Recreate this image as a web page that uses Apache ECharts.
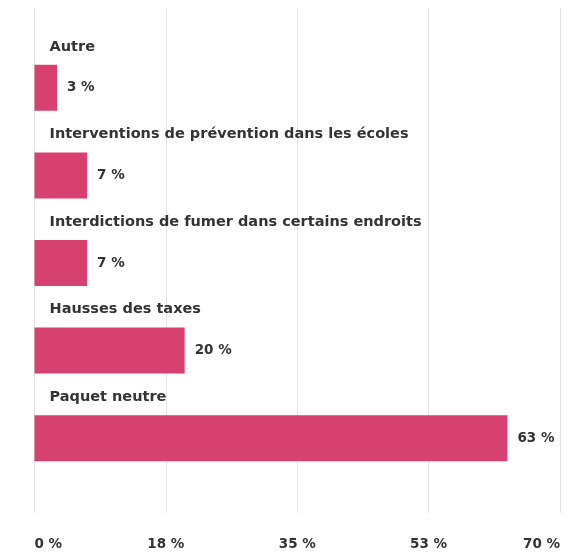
<!DOCTYPE html>
<html>
<head>
<meta charset="utf-8">
<script src="https://cdn.jsdelivr.net/npm/echarts@6/dist/echarts.min.js"></script>
<style>
  html, body { margin: 0; padding: 0; background: #fff; }
  #chart { width: 579px; height: 553px; }
</style>
</head>
<body>
<div id="chart"></div>
<script>
// Mesures jugées les plus efficaces (en %)
const categories = [
  'Autre',
  'Interventions de prévention dans les écoles',
  'Interdictions de fumer dans certains endroits',
  'Hausses des taxes',
  'Paquet neutre'
];
const values = [3, 7, 7, 20, 63];
const tickValues = [0, 17.5, 35, 52.5, 70];
const tickLabels = ['0 %', '18 %', '35 %', '53 %', '70 %'];

const FONT = '"DejaVu Sans", sans-serif';
const TEXT = '#333333';
const BAR = '#d6416f';

const chart = echarts.init(document.getElementById('chart'), null, { renderer: 'canvas' });

chart.setOption({
  animation: false,
  backgroundColor: '#ffffff',
  grid: [
    // background grid: vertical lines and bottom tick labels
    { left: 34.5, right: 19, top: 8, bottom: 40, containLabel: false },
    // bars
    { left: 34.5, right: 19, top: 44, bottom: 71, containLabel: false }
  ],
  xAxis: [
    {
      gridIndex: 0,
      type: 'value',
      min: 0,
      max: 70,
      interval: 17.5,
      axisLine: { show: false },
      axisTick: { show: false },
      splitLine: { show: true, lineStyle: { color: '#e3e3e3', width: 1 } },
      axisLabel: {
        margin: 24,
        color: TEXT,
        fontFamily: FONT,
        fontSize: 13.5,
        fontWeight: 'bold',
        alignMinLabel: 'left',
        alignMaxLabel: 'right',
        formatter: function (v) {
          const i = tickValues.indexOf(v);
          return i >= 0 ? tickLabels[i] : '';
        }
      }
    },
    {
      gridIndex: 1,
      type: 'value',
      min: 0,
      max: 70,
      interval: 17.5,
      show: false,
      splitLine: { show: false }
    }
  ],
  yAxis: [
    {
      gridIndex: 0,
      type: 'value',
      show: false,
      splitLine: { show: false }
    },
    {
      gridIndex: 1,
      type: 'category',
      data: categories,
      inverse: true,
      axisLine: { show: false },
      axisTick: { show: false },
      splitLine: { show: false },
      axisLabel: {
        inside: true,
        interval: 0,
        showMinLabel: true,
        showMaxLabel: true,
        hideOverlap: false,
        margin: 15,
        verticalAlign: 'middle',
        formatter: function (v) { return '{t|' + v + '}\n{s|}'; },
        rich: {
          t: {
            color: TEXT,
            fontFamily: FONT,
            fontSize: 14.5,
            fontWeight: 'bold',
            height: 18,
            lineHeight: 18
          },
          s: { height: 82, lineHeight: 82 }
        }
      },
      z: 5
    }
  ],
  series: [
    {
      type: 'bar',
      xAxisIndex: 1,
      yAxisIndex: 1,
      data: values,
      barWidth: 46,
      itemStyle: { color: BAR },
      label: {
        show: true,
        position: 'right',
        distance: 10,
        color: TEXT,
        fontFamily: FONT,
        fontSize: 13.5,
        fontWeight: 'bold',
        formatter: function (p) { return p.value + ' %'; }
      }
    }
  ]
});
</script>
</body>
</html>
